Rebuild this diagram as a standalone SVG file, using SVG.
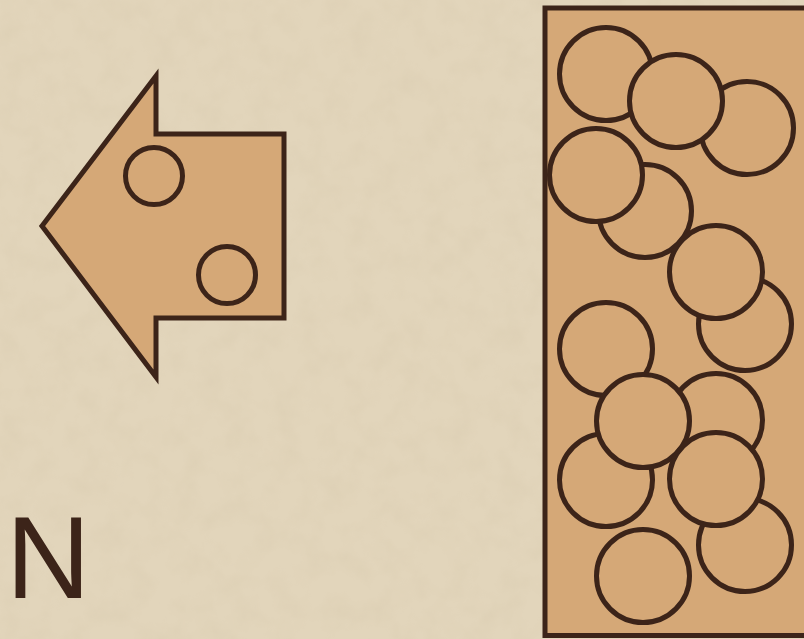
<svg xmlns="http://www.w3.org/2000/svg" width="804" height="639" viewBox="0 0 804 639">
  <defs>
    <style>
      .shape { fill: #d5a877; stroke: #3c2419; stroke-width: 5; stroke-linejoin: miter; }
      .ball { fill: #d5a877; stroke: #3c2419; stroke-width: 5; }
      .label { font-family: "Liberation Sans", Arial, sans-serif; font-size: 117px; fill: #3c2419; }
    </style>
    <filter id="paper" x="0" y="0" width="100%" height="100%">
      <feTurbulence type="fractalNoise" baseFrequency="0.04" numOctaves="3" seed="3" result="n"/>
      <feColorMatrix type="matrix" values="0 0 0 0 0.55  0 0 0 0 0.45  0 0 0 0 0.3  0 0 0 0.9 -0.35"/>
    </filter>
  </defs>
  <rect id="background" x="0" y="0" width="804" height="639" fill="#e2d5bb"/>
  <rect x="0" y="0" width="804" height="639" filter="url(#paper)" opacity="0.25"/>

  <g id="arrow">
    <polygon class="shape" points="156,76 156,134 284,134 284,318 156,318 156,377 42,226"/>
    <circle class="ball" cx="154" cy="176" r="28.5"/>
    <circle class="ball" cx="227" cy="275" r="28.5"/>
  </g>

  <g id="container">
    <rect class="shape" x="545" y="8" width="300" height="627.5"/>
    <circle class="ball" cx="606" cy="74" r="46.5"/>
    <circle class="ball" cx="747" cy="128" r="46.5"/>
    <circle class="ball" cx="676" cy="101" r="46.5"/>
    <circle class="ball" cx="645" cy="211" r="46.5"/>
    <circle class="ball" cx="596" cy="175" r="46.5"/>
    <circle class="ball" cx="745" cy="324" r="46.5"/>
    <circle class="ball" cx="716" cy="272" r="46.5"/>
    <circle class="ball" cx="606" cy="349" r="46.5"/>
    <circle class="ball" cx="606" cy="480" r="46.5"/>
    <circle class="ball" cx="716" cy="420" r="46.5"/>
    <circle class="ball" cx="745" cy="545" r="46.5"/>
    <circle class="ball" cx="643" cy="421" r="46.5"/>
    <circle class="ball" cx="716" cy="479" r="46.5"/>
    <circle class="ball" cx="643" cy="576" r="46.5"/>
  </g>

  <g id="label-n">
    <text class="label" x="6" y="598">N</text>
  </g>

  <g id="connectors"/>
</svg>
